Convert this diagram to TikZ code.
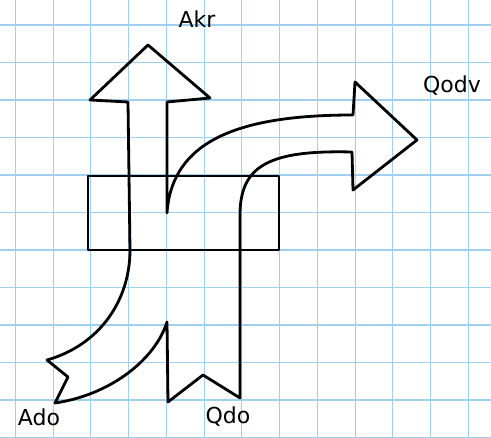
\documentclass[tikz,border=0pt]{standalone}
\usepackage{fontspec}
\setmainfont{DejaVu Sans}
\usepackage{xcolor}
\usetikzlibrary{positioning}
\definecolor{gridblue}{RGB}{160,208,240}

\begin{document}
\begin{tikzpicture}[x=1pt, y=-1pt,
  sheet/.style={gridblue, line width=1.1pt},
  ink/.style={draw, line width=2.8pt, line join=round, line cap=round},
  lbl/.style={font=\fontsize{22}{24}\selectfont, inner sep=0pt},
]
  \useasboundingbox (0,0) rectangle (491,438);
  \fill[white] (0,0) rectangle (491,438);

  % --- squared paper ---------------------------------------------------
  \foreach \k in {0,...,12}
    \draw[sheet] (15.3+37.75*\k,0) -- (15.3+37.75*\k,438);
  \foreach \k in {0,...,11}
    \draw[sheet] (0,25+37.5*\k) -- (491,25+37.5*\k);

  % --- flows in and out, one outline -------------------------------------
  \draw[ink] (47,360) .. controls (100,345) and (130,300) .. (130,250)
    -- (128,102) -- (90,100) -- (148,45) -- (210,98) -- (167,102)
    -- (167,213) .. controls (172,140) and (240,115) .. (353,115)
    -- (355,82) -- (417,140) -- (353,190) -- (352,152)
    .. controls (270,150) and (240,165) .. (240,215)
    -- (240,398) -- (203,375) -- (168,402) -- (167,322)
    .. controls (155,360) and (110,395) .. (55,403)
    -- (68,377) -- cycle;

  % --- the box ------------------------------------------------------------
  \draw[ink] (88,176) rectangle (279,250);

  % --- labels ---------------------------------------------------------------
  \node[lbl] (akr) at (197,19) {Akr};
  \node[lbl] (qodv) at (452,86) {Qodv};
  \node[lbl] (ado) at (39,417) {Ado};
  \node[lbl] (qdo) at (228,417) {Qdo};
\end{tikzpicture}
\end{document}
